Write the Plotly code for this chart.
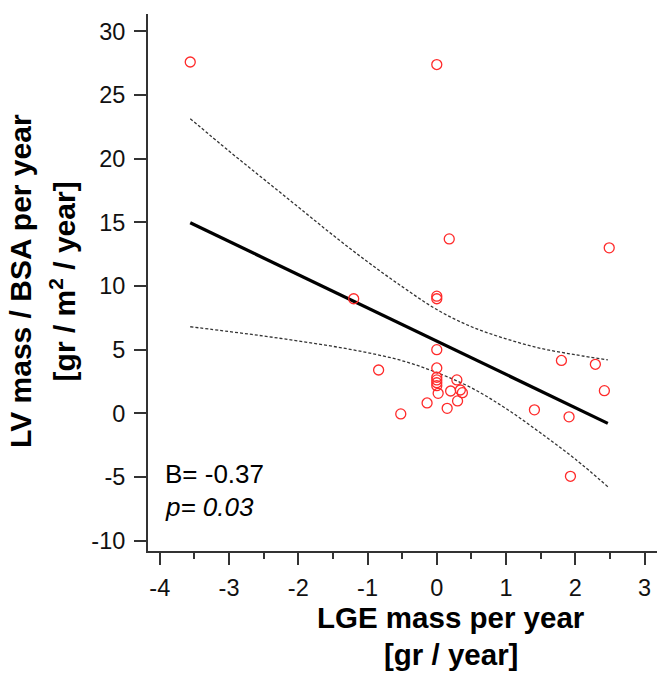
import plotly.graph_objects as go

# Scatter data: LGE mass per year (x) vs LV mass / BSA per year (y)
lge_mass = [-3.56, 0.00, 0.18, 2.49, -1.20, 0.00, 0.00, 0.00, 1.80, 2.29,
            -0.84, 0.00, 0.00, 0.00, 0.00, 0.00, 0.02, 0.29, 0.20, 0.34,
            0.37, 0.30, -0.14, 0.15, -0.52, 1.41, 1.91, 2.42, 1.93]
lv_mass = [27.6, 27.4, 13.7, 13.0, 9.0, 9.2, 9.0, 5.0, 4.15, 3.85,
           3.4, 3.56, 2.83, 2.62, 2.40, 2.17, 1.57, 2.62, 1.75, 1.83,
           1.62, 0.97, 0.81, 0.39, -0.05, 0.27, -0.28, 1.78, -4.95]

# Regression line
fit_x = [-3.56, 2.47]
fit_y = [14.97, -0.79]

# 95% confidence band
band_x = [-3.56, -3.0, -2.5, -2.0, -1.5, -1.0, -0.5, 0.0, 0.5, 1.0, 1.5, 2.0, 2.47]
band_upper = [23.15, 20.6, 18.4, 16.2, 14.0, 11.9, 9.95, 8.15, 6.8, 5.85, 5.1, 4.6, 4.19]
band_lower = [6.80, 6.42, 6.07, 5.68, 5.26, 4.76, 4.13, 3.2, 2.0, 0.37, -1.55, -3.6, -5.77]

x_ticks = [-4, -3, -2, -1, 0, 1, 2, 3]
x_labels = ["-4", "-3", "-2", "-1", "0", "1", "2", "3"]
y_ticks = [-10, -5, 0, 5, 10, 15, 20, 25, 30]
y_labels = ["-10", "-5", "0", "5", "10", "15", "20", "25", "30"]

FONT = "Liberation Sans, Arial, sans-serif"
AXC = "#333333"

fig = go.Figure()
fig.add_trace(go.Scatter(x=band_x, y=band_upper, mode="lines",
                         line=dict(color="#333333", width=1.3, dash="3px,2px", shape="spline"),
                         hoverinfo="skip"))
fig.add_trace(go.Scatter(x=band_x, y=band_lower, mode="lines",
                         line=dict(color="#333333", width=1.3, dash="3px,2px", shape="spline"),
                         hoverinfo="skip"))
fig.add_trace(go.Scatter(x=fit_x, y=fit_y, mode="lines",
                         line=dict(color="black", width=3.2)))
fig.add_trace(go.Scatter(x=lge_mass, y=lv_mass, mode="markers",
                         marker=dict(symbol="circle-open", size=10, color="#ff2a2a",
                                     line=dict(width=1.3, color="#ff2a2a"))))

fig.update_layout(
    width=657, height=683,
    margin=dict(l=148, r=0, t=14, b=132),
    paper_bgcolor="white", plot_bgcolor="white",
    showlegend=False,
    font=dict(family=FONT, color="#111111"),
    xaxis=dict(range=[-4.17, 3.18], tickmode="array", tickvals=x_ticks, ticktext=x_labels,
               ticks="outside", ticklen=12,
               tickwidth=2, tickcolor=AXC, showline=True, linecolor=AXC, linewidth=2,
               showgrid=False, zeroline=False, tickfont=dict(size=23.5, family=FONT, color="#111111"),
               ticklabelstandoff=3,
               minor=dict(dtick=0.5, tick0=-4.5, ticks="outside", ticklen=6,
                          tickwidth=2, tickcolor=AXC, showgrid=False)),
    yaxis=dict(range=[-10.82, 31.37], tickmode="array", tickvals=y_ticks, ticktext=y_labels,
               ticks="outside", ticklen=12,
               tickwidth=2, tickcolor=AXC, showline=True, linecolor=AXC, linewidth=2,
               showgrid=False, zeroline=False, tickfont=dict(size=23.5, family=FONT, color="#111111"),
               ticklabelstandoff=4),
)

# Axis titles as annotations
fig.add_annotation(text="<b>LV mass / BSA per year</b>", xref="paper", yref="paper",
                   x=-148/509, y=0.502, xanchor="left", yanchor="middle",
                   textangle=-90, showarrow=False, xshift=2,
                   font=dict(size=30, family=FONT, color="black"))
fig.add_annotation(text="<b>[gr / m<sup>2</sup> / year]</b>", xref="paper", yref="paper",
                   x=-148/509, y=0.502, xanchor="left", yanchor="middle",
                   textangle=-90, showarrow=False, xshift=42,
                   font=dict(size=30, family=FONT, color="black"))
fig.add_annotation(text="<b>LGE mass per year</b>", xref="paper", yref="paper",
                   x=(451-148)/509, y=0, xanchor="center", yanchor="top",
                   showarrow=False, yshift=-48,
                   font=dict(size=29.5, family=FONT, color="black"))
fig.add_annotation(text="<b>[gr / year]</b>", xref="paper", yref="paper",
                   x=(451-148)/509, y=0, xanchor="center", yanchor="top",
                   showarrow=False, yshift=-85,
                   font=dict(size=29.5, family=FONT, color="black"))

# Statistics text
fig.add_annotation(text="B= -0.37", xref="paper", yref="paper",
                   x=(163-148)/509, y=(551-474)/537, xanchor="left", yanchor="middle",
                   showarrow=False, font=dict(size=26, family=FONT, color="black"))
fig.add_annotation(text="<i>p= 0.03</i>", xref="paper", yref="paper",
                   x=(163-148)/509, y=(551-507)/537, xanchor="left", yanchor="middle",
                   showarrow=False, font=dict(size=26, family=FONT, color="black"))

fig.write_html("out.html")
